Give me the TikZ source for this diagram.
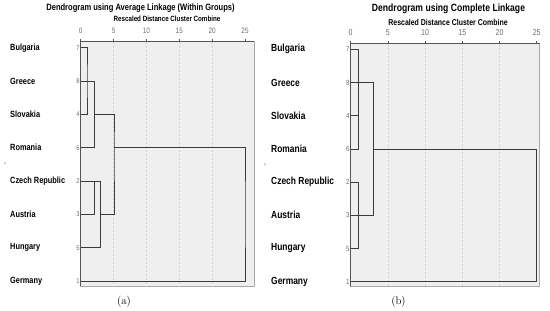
\documentclass[tikz,border=0pt]{standalone}
\usepackage{fontspec}
\usepackage{xcolor}
\usepackage{tikz}
\usetikzlibrary{calc}
\newfontfamily\spssfont[FakeStretch=0.82]{Liberation Sans}
\definecolor{dframe}{HTML}{A8A8A8}
\definecolor{daxis}{HTML}{555555}
\definecolor{dfill}{HTML}{EFEFEF}
\definecolor{dgrid}{HTML}{D2D2D2}
\definecolor{dline}{HTML}{3C3C3C}
\definecolor{dtick}{HTML}{6E6E6E}

\begin{document}
\begin{tikzpicture}[
x=1pt,
y=-1pt,
every node/.style={inner sep=0pt},
dheada/.style={font=\spssfont\bfseries\fontsize{9.2}{10}\selectfont},
dsuba/.style={font=\spssfont\bfseries\fontsize{7.6}{8}\selectfont},
dheadb/.style={font=\spssfont\bfseries\fontsize{10.5}{11}\selectfont},
dsubb/.style={font=\spssfont\bfseries\fontsize{8.5}{9}\selectfont},
dlabela/.style={anchor=west,font=\spssfont\bfseries\fontsize{9}{10}\selectfont},
dlabelb/.style={anchor=west,font=\spssfont\bfseries\fontsize{10.3}{11}\selectfont},
dticka/.style={text=dtick,font=\spssfont\fontsize{7.8}{8}\selectfont},
dtickb/.style={text=dtick,font=\spssfont\fontsize{8.6}{9}\selectfont},
dcasea/.style={anchor=east,text=dtick,font=\spssfont\fontsize{7}{7}\selectfont},
dcaseb/.style={anchor=east,text=dtick,font=\spssfont\fontsize{7.5}{8}\selectfont},
dmark/.style={text=dtick,font=\spssfont\fontsize{5}{5}\selectfont},
dcap/.style={font=\fontsize{11}{12}\selectfont},
dbox/.style={draw=dframe,fill=dfill,line width=0.8pt},
daxisline/.style={draw=daxis,line width=0.8pt},
dgridline/.style={draw=dgrid,dash pattern=on 2pt off 2pt,line width=0.5pt},
dlink/.style={draw=dline,line width=0.8pt}
]
\useasboundingbox (0,0) rectangle (550,311);

\node[dheada] (ta) at (140.5,8) {Dendrogram using Average Linkage (Within Groups)};
\node[dsuba] (sa) at (167,19) {Rescaled Distance Cluster Combine};
\node[dheadb] (tb) at (448.5,9) {Dendrogram using Complete Linkage};
\node[dsubb] (sb) at (448,22) {Rescaled Distance Cluster Combine};

\draw[dbox] (80.7,41.5) rectangle (254,286);
\draw[dgridline] (113.6,41.5) -- (113.6,286);
\draw[dgridline] (146.4,41.5) -- (146.4,286);
\draw[dgridline] (179.3,41.5) -- (179.3,286);
\draw[dgridline] (212.1,41.5) -- (212.1,286);
\draw[daxisline] (80.7,286) -- (80.7,41.5) -- (254,41.5);
\draw[daxisline] (80.7,41.5) -- (80.7,38.5) (113.6,41.5) -- (113.6,38.5) (146.4,41.5) -- (146.4,38.5) (179.3,41.5) -- (179.3,38.5) (212.1,41.5) -- (212.1,38.5) (245,41.5) -- (245,38.5);
\draw[dbox] (350.7,43.5) rectangle (539.5,286);
\draw[dgridline] (387.9,43.5) -- (387.9,286);
\draw[dgridline] (425.1,43.5) -- (425.1,286);
\draw[dgridline] (462.3,43.5) -- (462.3,286);
\draw[dgridline] (499.5,43.5) -- (499.5,286);
\draw[daxisline] (350.7,286) -- (350.7,43.5) -- (539.5,43.5);
\draw[daxisline] (350.7,43.5) -- (350.7,40.5) (387.9,43.5) -- (387.9,40.5) (425.1,43.5) -- (425.1,40.5) (462.3,43.5) -- (462.3,40.5) (499.5,43.5) -- (499.5,40.5) (536.7,43.5) -- (536.7,40.5);

\node[dticka] (ka0) at (80.7,31) {0};
\node[dticka] (ka5) at (113.6,31) {5};
\node[dticka] (ka10) at (146.4,31) {10};
\node[dticka] (ka15) at (179.3,31) {15};
\node[dticka] (ka20) at (212.1,31) {20};
\node[dticka] (ka25) at (245.0,31) {25};
\node[dtickb] (kb0) at (350.7,33) {0};
\node[dtickb] (kb5) at (387.9,33) {5};
\node[dtickb] (kb10) at (425.1,33) {10};
\node[dtickb] (kb15) at (462.3,33) {15};
\node[dtickb] (kb20) at (499.5,33) {20};
\node[dtickb] (kb25) at (536.7,33) {25};

\node[dlabela] (la7) at (10,47.7) {Bulgaria};
\node[dlabela] (la8) at (10,81) {Greece};
\node[dlabela] (la4) at (10,114.3) {Slovakia};
\node[dlabela] (la6) at (10,147.7) {Romania};
\node[dlabela] (la2) at (10,181) {Czech Republic};
\node[dlabela] (la3) at (10,214.3) {Austria};
\node[dlabela] (la5) at (10,247.7) {Hungary};
\node[dlabela] (la1) at (10,281) {Germany};
\node[dlabelb] (lb7) at (271,49.3) {Bulgaria};
\node[dlabelb] (lb8) at (271,82.5) {Greece};
\node[dlabelb] (lb4) at (271,115.7) {Slovakia};
\node[dlabelb] (lb6) at (271,148.9) {Romania};
\node[dlabelb] (lb2) at (271,182.1) {Czech Republic};
\node[dlabelb] (lb3) at (271,215.3) {Austria};
\node[dlabelb] (lb5) at (271,248.5) {Hungary};
\node[dlabelb] (lb1) at (271,281.7) {Germany};

\node[dcasea] (na7) at (79.8,47.7) {7};
\node[dcasea] (na8) at (79.8,81) {8};
\node[dcasea] (na4) at (79.8,114.3) {4};
\node[dcasea] (na6) at (79.8,147.7) {6};
\node[dcasea] (na2) at (79.8,181) {2};
\node[dcasea] (na3) at (79.8,214.3) {3};
\node[dcasea] (na5) at (79.8,247.7) {5};
\node[dcasea] (na1) at (79.8,281) {1};
\node[dcaseb] (nb7) at (349.8,49.3) {7};
\node[dcaseb] (nb8) at (349.8,82.5) {8};
\node[dcaseb] (nb4) at (349.8,115.7) {4};
\node[dcaseb] (nb6) at (349.8,148.9) {6};
\node[dcaseb] (nb2) at (349.8,182.1) {2};
\node[dcaseb] (nb3) at (349.8,215.3) {3};
\node[dcaseb] (nb5) at (349.8,248.5) {5};
\node[dcaseb] (nb1) at (349.8,281.7) {1};

\coordinate (a7) at (80.7,47.7);
\coordinate (a8) at (80.7,81);
\coordinate (a4) at (80.7,114.3);
\coordinate (a6) at (80.7,147.7);
\coordinate (a2) at (80.7,181);
\coordinate (a3) at (80.7,214.3);
\coordinate (a5) at (80.7,247.7);
\coordinate (a1) at (80.7,281.7);
\coordinate (pa1) at (87,81);
\coordinate (pa2) at (94.3,114.3);
\coordinate (pa3) at (114,147.7);
\coordinate (pa4) at (94.3,198);
\coordinate (pa5) at (100.7,214.3);
\coordinate (pa6) at (245,214.3);
\draw[dlink] (a7) -| (pa1) |- (a4);
\draw[dlink] (a8) -| (pa2) |- (a6);
\draw[dlink] (pa2) -| (pa3) |- (pa5);
\draw[dlink] (a2) -| (pa4) |- (a3);
\draw[dlink] (a2) -| (pa5) |- (a5);
\draw[dlink] (pa3) -| (pa6) |- (a1);

\coordinate (b7) at (350.7,49.3);
\coordinate (b8) at (350.7,82.5);
\coordinate (b4) at (350.7,115.7);
\coordinate (b6) at (350.7,148.9);
\coordinate (b2) at (350.7,182.1);
\coordinate (b3) at (350.7,215.3);
\coordinate (b5) at (350.7,248.5);
\coordinate (b1) at (350.7,281.7);
\coordinate (pb1) at (358.5,99);
\coordinate (pb2) at (373.3,148.9);
\coordinate (pb3) at (358.5,215.3);
\coordinate (pb4) at (536.7,215.3);
\draw[dlink] (b7) -| (pb1) |- (b6);
\draw[dlink] (b4) -- (b4 -| pb1);
\draw[dlink] (b8) -| (pb2) |- (b3);
\draw[dlink] (b2) -| (pb3) |- (b5);
\draw[dlink] (pb2) -| (pb4) |- (b1);

\node[dmark] (ma) at (5,164) {>};
\node[dmark] (mb) at (265,165) {>};
\node[dcap] (ca) at (124,302) {(a)};
\node[dcap] (cb) at (398.5,302) {(b)};
\end{tikzpicture}
\end{document}
